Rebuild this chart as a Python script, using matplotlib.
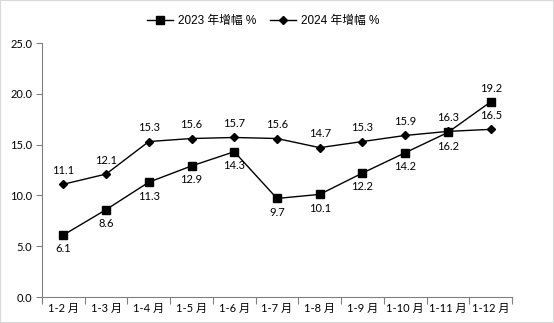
import matplotlib
matplotlib.use("Agg")
import matplotlib.pyplot as plt
from matplotlib.patches import Rectangle

plt.rcParams["font.family"] = ["Lato", "Noto Sans CJK SC", "DejaVu Sans"]

months = ["1-2 月", "1-3 月", "1-4 月", "1-5 月", "1-6 月", "1-7 月",
          "1-8 月", "1-9 月", "1-10 月", "1-11 月", "1-12 月"]
growth_2023 = [6.1, 8.6, 11.3, 12.9, 14.3, 9.7, 10.1, 12.2, 14.2, 16.2, 19.2]
growth_2024 = [11.1, 12.1, 15.3, 15.6, 15.7, 15.6, 14.7, 15.3, 15.9, 16.3, 16.5]

fig = plt.figure(figsize=(5.54, 3.23), dpi=100)
ax = fig.add_axes([42 / 554, 1 - 297 / 323, (512 - 42) / 554, (297 - 43) / 323])

x = list(range(len(months)))
ax.plot(x, growth_2023, color="black", lw=1.0, marker="s", ms=6,
        label="2023 年增幅 %")
ax.plot(x, growth_2024, color="black", lw=1.0, marker="D", ms=4.5,
        label="2024 年增幅 %")

# 2023 标签在点下方(最后一个在上方),2024 标签在点上方
for i, v in enumerate(growth_2023):
    above = i == len(growth_2023) - 1
    ax.annotate(f"{v:.1f}", (i, v), xytext=(0, 6 if above else -6),
                textcoords="offset points", ha="center",
                va="bottom" if above else "top", fontsize=8)
for i, v in enumerate(growth_2024):
    ax.annotate(f"{v:.1f}", (i, v), xytext=(0, 6), textcoords="offset points",
                ha="center", va="bottom", fontsize=8)

ax.set_xlim(-0.5, len(months) - 0.5)
ax.set_ylim(0, 25)
yt = [0, 5, 10, 15, 20, 25]
ax.set_yticks(yt)
ax.set_yticklabels([f"{t:.1f}" for t in yt], fontsize=8)
ax.set_xticks([i - 0.5 for i in range(len(months) + 1)])
ax.set_xticklabels([])
ax.set_xticks(x, minor=True)
ax.set_xticklabels(months, minor=True, fontsize=8)
ax.tick_params(axis="x", which="major", length=5, color="#808080", direction="out")
ax.tick_params(axis="x", which="minor", length=0, pad=4)
ax.tick_params(axis="y", length=4, color="#808080", direction="out", pad=3)

for s in ["top", "right"]:
    ax.spines[s].set_visible(False)
for s in ["left", "bottom"]:
    ax.spines[s].set_color("#808080")
    ax.spines[s].set_linewidth(0.8)

ax.legend(loc="lower center", bbox_to_anchor=(0.47, 1.02), ncol=2, frameon=False,
          handlelength=2.2, columnspacing=1.2, handletextpad=0.4,
          prop={"family": ["Liberation Sans", "Noto Sans CJK SC"], "size": 8.5})

fig.patches.append(Rectangle((0, 0), 1, 1, transform=fig.transFigure,
                             fill=False, edgecolor="#d9d9d9", lw=1.5))

fig.savefig("out.png", dpi=100)
